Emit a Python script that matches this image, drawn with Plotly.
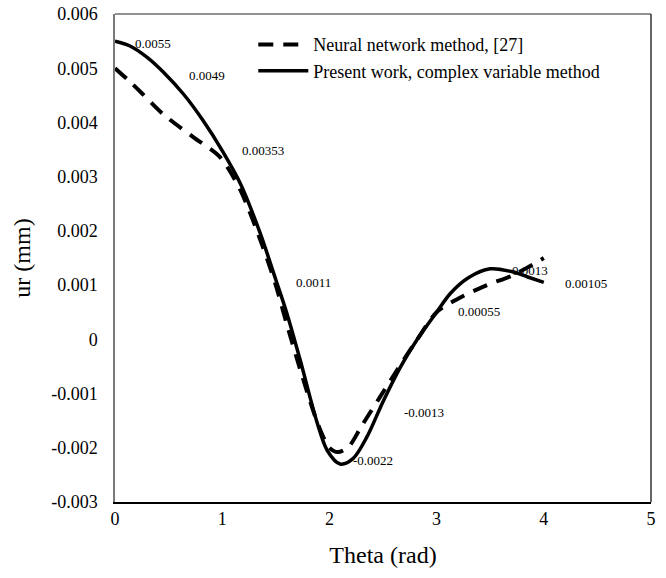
import plotly.graph_objects as go

# Present work, complex variable method (solid)
theta_solid = [0.0, 0.14, 0.3, 0.45, 0.64, 0.82, 1.0, 1.17, 1.35, 1.5, 1.6, 1.73, 1.88, 1.98, 2.1,
               2.22, 2.35, 2.5, 2.66, 2.82, 3.0, 3.13, 3.3, 3.5, 3.7, 3.85, 4.0]
ur_solid = [0.0055, 0.00541, 0.0052, 0.00493, 0.00452, 0.00404, 0.00348, 0.00287, 0.00198, 0.0011,
            0.0005, -0.0004, -0.0015, -0.00205, -0.0023, -0.0022, -0.0018, -0.00115, -0.00052,
            0.0, 0.0005, 0.00085, 0.00114, 0.0013, 0.00125, 0.00115, 0.00105]

# Neural network method, [27] (dashed)
theta_nn = [0.0, 0.14, 0.26, 0.45, 0.73, 0.98, 1.17, 1.38, 1.5, 1.6, 1.75, 1.9, 2.0, 2.08, 2.18,
            2.3, 2.47, 2.63, 2.82, 3.0, 3.2, 3.47, 3.71, 4.0]
ur_nn = [0.0050, 0.00475, 0.00452, 0.00415, 0.00373, 0.00336, 0.00275, 0.0017, 0.0010, 0.0003,
         -0.0007, -0.0016, -0.0020, -0.00208, -0.00198, -0.0016, -0.00107, -0.00057, 0.0,
         0.0005, 0.00075, 0.001, 0.00118, 0.0015]

# Value labels
label_text = ["0.0055", "0.0049", "0.00353", "0.0011", "-0.0022", "-0.0013", "0.00055", "0.0013", "0.00105"]
label_x = [0.355, 0.858, 1.38, 1.85, 2.41, 2.88, 3.40, 3.87, 4.39]
label_y = [0.00546, 0.00487, 0.00349, 0.00105, -0.00223, -0.00135, 0.00052, 0.00127, 0.00103]

y_ticks = [-0.003, -0.002, -0.001, 0, 0.001, 0.002, 0.003, 0.004, 0.005, 0.006]
y_tick_text = ["-0.003", "-0.002", "-0.001", "0", "0.001", "0.002", "0.003", "0.004", "0.005", "0.006"]
x_ticks = [0, 1, 2, 3, 4, 5]

FONT = "Liberation Serif, Times New Roman, serif"

fig = go.Figure()
fig.add_trace(go.Scatter(
    x=theta_nn, y=ur_nn, mode="lines", name="Neural network method, [27]",
    line=dict(color="black", width=4, dash="15px,10px", shape="spline", smoothing=0.8),
))
fig.add_trace(go.Scatter(
    x=theta_solid, y=ur_solid, mode="lines", name="Present work, complex variable method",
    line=dict(color="black", width=3.5, shape="spline", smoothing=0.9),
))

for t, xx, yy in zip(label_text, label_x, label_y):
    fig.add_annotation(x=xx, y=yy, xref="x", yref="y", text=t, showarrow=False,
                       font=dict(family=FONT, size=13, color="black"))

# top and right frame lines
fig.add_shape(type="line", xref="paper", yref="paper", x0=0, x1=1, y0=1, y1=1,
              line=dict(color="#6e6e6e", width=1.5))
fig.add_shape(type="line", xref="paper", yref="paper", x0=1, x1=1, y0=0, y1=1,
              line=dict(color="#333333", width=1.5))

fig.update_layout(
    width=666, height=578,
    margin=dict(l=115, r=15, t=14, b=76, autoexpand=False),
    paper_bgcolor="white", plot_bgcolor="white",
    font=dict(family=FONT, color="black"),
    showlegend=True,
    legend=dict(x=0.258, y=0.975, xanchor="left", yanchor="top",
                bgcolor="rgba(0,0,0,0)", font=dict(family=FONT, size=18, color="black"),
                itemwidth=50, tracegroupgap=0),
    xaxis=dict(range=[0, 5], tickvals=x_ticks, showgrid=False, zeroline=False, automargin=False,
               showline=True, linecolor="black", linewidth=1.5, ticks="",
               tickfont=dict(family=FONT, size=18, color="black"),
               title=dict(text="Theta (rad)", font=dict(family=FONT, size=24, color="black"),
                          standoff=18)),
    yaxis=dict(range=[-0.003, 0.006], tickvals=y_ticks, ticktext=y_tick_text, showgrid=False,
               zeroline=False, showline=True, linecolor="#7a7a7a", linewidth=1.5, ticks="",
               ticklabelstandoff=12, automargin=False,
               tickfont=dict(family=FONT, size=18, color="black"),
               title=dict(text="ur (mm)", font=dict(family=FONT, size=24, color="black"),
                          standoff=14)),
)

fig.write_html("out.html", config={"displayModeBar": False},
               post_script="document.body.style.margin='0';")
